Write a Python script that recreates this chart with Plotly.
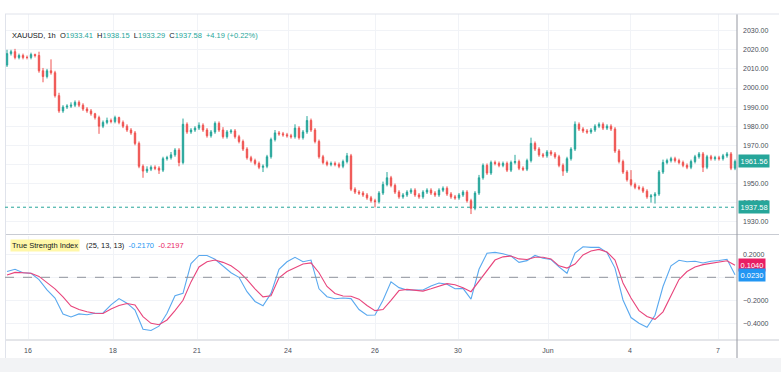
import plotly.graph_objects as go

# ---------------- data ----------------
closes = [
    2018, 2019, 2016, 2017, 2016, 2016, 2017.5, 2017, 2009, 2006,
    2009, 2008, 1996, 1988, 1990, 1990.5, 1991, 1992.5, 1991, 1989,
    1988, 1986.5, 1984.5, 1980, 1982, 1983, 1982.5, 1984.5, 1982, 1980,
    1978, 1976.5, 1971, 1959, 1956.5, 1957.5, 1958.5, 1958, 1957, 1963,
    1963.5, 1965, 1967.5, 1961, 1981, 1977, 1978, 1979, 1980.5, 1978,
    1975, 1977, 1981.5, 1978, 1974.5, 1977, 1977.5, 1974.5, 1972, 1968,
    1963.5, 1962, 1960.5, 1958.5, 1959, 1964, 1973, 1976.5, 1976, 1975.5,
    1975, 1974.5, 1979, 1974, 1977, 1983, 1978, 1972, 1964, 1961,
    1960, 1960.5, 1960, 1959, 1961.5, 1964.5, 1947, 1945.5, 1945, 1944,
    1942.5, 1941, 1940.5, 1945, 1949.5, 1953, 1949, 1945.5, 1943, 1944,
    1945.5, 1946.5, 1944, 1943, 1945.5, 1946.5, 1945, 1944, 1946.5, 1947.5,
    1944.5, 1943, 1942.5, 1944, 1945.5, 1941, 1937, 1945, 1953, 1959.5,
    1955.5, 1961, 1960.5, 1959.5, 1960.5, 1957, 1961, 1961.5, 1958, 1957.5,
    1962, 1971, 1968, 1965, 1964.5, 1966.5, 1965.5, 1964, 1959.5, 1956.5,
    1963, 1968, 1981, 1978.5, 1977.5, 1977, 1978, 1980, 1981, 1979,
    1980, 1978.5, 1967, 1961.5, 1956, 1952, 1949.5, 1948, 1947.5, 1946,
    1943, 1943.5, 1944.5, 1956, 1961, 1962, 1963, 1962, 1961, 1959.5,
    1958.5, 1961.5, 1964, 1965.5, 1958.5, 1964, 1963, 1963.5, 1963, 1964.5,
    1965.5, 1958, 1961.56,
]
first_open = 2012

up_wick = [
    2, 1, 1.5, 1, 1, 1, 1, 0.5, 2, 1.5, 1, 6, 1, 1.5, 1, 1, 1.5, 1, 1, 1,
    1, 1, 0.5, 1, 1, 1.5, 1, 1, 0.5, 1, 1, 1, 1, 1, 1, 1.5, 1, 1, 1, 1,
    1, 1.5, 1, 1, 3, 1, 1, 1, 1.5, 1, 1, 1, 1, 1, 1.5, 1, 1, 1, 1, 1,
    1, 1, 1, 1, 1, 1, 1, 1.5, 1, 1, 1, 1, 2, 1, 1, 2.3, 1, 1, 1, 1,
    1, 1, 1, 1, 1, 1.5, 1, 1, 1, 1, 1, 1, 1, 1, 1.5, 3, 1, 1, 1, 1,
    1, 1, 1, 1, 1, 1, 1, 1, 1, 1, 1, 1, 1, 1, 1, 1, 1, 1, 1.5, 1,
    1, 1, 1, 1, 1, 1, 1, 3.5, 1, 1, 1, 3, 1, 1, 1, 1, 1, 1, 1, 1,
    1, 1, 1.5, 1, 1, 1, 1, 1, 1, 1, 1, 1, 1, 1, 1, 1, 5, 1, 1, 1,
    1, 1, 1, 1, 1.5, 1, 1, 1, 1, 1, 1, 1, 1, 1, 1, 1, 1, 1, 1, 1,
    1, 1, 1,
]
dn_wick = [
    1, 1, 1, 1, 1, 1, 1, 1, 1, 3, 1, 1, 1, 1, 1, 1, 1, 1, 1, 1,
    1, 1, 1, 4, 1, 1, 1, 1, 1, 1, 1, 1, 1, 1, 3.5, 1, 1, 1, 2, 1,
    1, 1, 1, 2, 1, 1, 1, 1, 1, 1, 1, 1, 1, 1, 1, 1, 1, 1, 1, 1,
    1, 1, 1, 1, 2.5, 1, 1, 1, 1, 1, 1, 1, 1, 1, 1, 1, 1, 1, 1, 1,
    1, 1, 1, 1, 1, 1, 1, 1, 1, 1, 1, 1, 3, 1, 1, 1, 1, 1, 1, 1,
    1, 1, 1, 1, 1, 1, 1, 1, 1, 1, 1, 1, 1, 1, 1, 1, 3, 1, 1, 1,
    1, 1, 1, 1, 1, 1, 1, 1, 1, 1, 1, 1, 1, 1, 1, 1, 1, 1, 1, 2.5,
    1, 1, 1, 1, 1, 1, 1, 1, 1, 1, 1, 1, 1, 1, 1, 1, 1, 1, 1, 1,
    1, 3, 4, 1, 1, 1, 1, 1, 1, 1, 1, 1, 1, 1, 2.5, 1, 1, 1, 1, 1,
    1, 1, 1,
]

# TSI(25,13,13) and its signal, read every second bar
tsi = [
    0.05, 0.07, 0.04, 0.035, -0.02, -0.11, -0.18, -0.32, -0.345, -0.318,
    -0.325, -0.313, -0.31, -0.24, -0.185, -0.225, -0.284, -0.452, -0.462, -0.425,
    -0.313, -0.16, -0.139, 0.12, 0.19, 0.19, 0.157, 0.10, 0.04, 0.0,
    -0.125, -0.21, -0.247, -0.14, 0.07, 0.135, 0.174, 0.135, 0.15, -0.10,
    -0.169, -0.186, -0.18, -0.185, -0.28, -0.33, -0.328, -0.20, -0.04, -0.09,
    -0.11, -0.11, -0.11, -0.075, -0.05, -0.06, -0.10, -0.096, -0.19, 0.07,
    0.209, 0.217, 0.205, 0.185, 0.13, 0.145, 0.19, 0.165, 0.155, 0.09,
    0.035, 0.21, 0.266, 0.26, 0.26, 0.215, 0.08, -0.197, -0.35, -0.40,
    -0.435, -0.33, -0.08, 0.10, 0.148, 0.135, 0.14, 0.125, 0.14, 0.146,
    0.157, 0.023,
]
signal = [
    0.02, 0.043, 0.04, 0.035, 0.008, -0.047, -0.10, -0.17, -0.25, -0.28,
    -0.30, -0.312, -0.315, -0.275, -0.245, -0.228, -0.24, -0.342, -0.40, -0.412,
    -0.371, -0.29, -0.20, -0.04, 0.09, 0.135, 0.15, 0.13, 0.10, 0.05,
    -0.02, -0.10, -0.17, -0.16, -0.005, 0.05, 0.085, 0.116, 0.125, 0.04,
    -0.08, -0.14, -0.163, -0.165, -0.19, -0.245, -0.29, -0.28, -0.20, -0.115,
    -0.105, -0.11, -0.12, -0.10, -0.075, -0.055, -0.065, -0.09, -0.125, -0.03,
    0.063, 0.15, 0.178, 0.185, 0.16, 0.155, 0.174, 0.174, 0.16, 0.10,
    0.08, 0.115, 0.194, 0.228, 0.243, 0.22, 0.15, -0.05, -0.18, -0.29,
    -0.34, -0.365, -0.30, -0.16, -0.02, 0.05, 0.09, 0.11, 0.12, 0.13,
    0.144, 0.104,
]

date_labels = ["16", "18", "21", "24", "26", "30", "Jun", "4", "7"]
date_bars = [5.25, 26.5, 47.5, 70.25, 92, 112.75, 135.25, 155.75, 177.75]
price_ticks = [1930, 1940, 1950, 1960, 1970, 1980, 1990, 2000, 2010, 2020, 2030]
price_text = ["1930.00", "1940.00", "1950.00", "", "1970.00", "1980.00", "1990.00",
              "2000.00", "2010.00", "2020.00", "2030.00"]
tsi_ticks = [-0.4, -0.2, 0.0, 0.2]
tsi_text = ["\u22120.4000", "\u22120.2000", "", "0.2000"]
last_close = 1961.56
hover_close = 1937.58
tsi_last = 0.0230
signal_last = 0.1040

# ---------------- derived OHLC ----------------
bars = list(range(len(closes)))
opens = [first_open] + closes[:-1]
highs = [max(o, c) + u for o, c, u in zip(opens, closes, up_wick)]
lows = [min(o, c) - d for o, c, d in zip(opens, closes, dn_wick)]
tsi_x = bars[::2]

# ---------------- styling / layout ----------------
W, H = 781, 372
def px(x):
    return x / W
def py(y):
    return 1 - y / H

UP = "#26a69a"
DN = "#ef5350"
BLUE = "#5aa9ef"
PINK = "#e8457c"
GRID = "#f1f3f7"
AXC = "#c9ccd3"
TXT = "#4a4e58"
FONT = "Liberation Sans"

fig = go.Figure()
fig.add_trace(go.Candlestick(
    x=bars, open=opens, high=highs, low=lows, close=closes,
    increasing=dict(line=dict(color=UP, width=1), fillcolor=UP),
    decreasing=dict(line=dict(color=DN, width=1), fillcolor=DN),
    whiskerwidth=0, xaxis="x", yaxis="y", hoverinfo="skip",
))
fig.add_trace(go.Scatter(x=tsi_x, y=tsi, mode="lines",
                         line=dict(color=BLUE, width=1.1), xaxis="x2", yaxis="y2",
                         hoverinfo="skip"))
fig.add_trace(go.Scatter(x=tsi_x, y=signal, mode="lines",
                         line=dict(color=PINK, width=1.1), xaxis="x2", yaxis="y2",
                         hoverinfo="skip"))

xdom = [px(5), px(737)]
xr = [-0.5, len(closes) - 0.5]
main_lo = 2030 - (233 - 30.7) / 1.91
main_hi = 2030 + (30.7 - 14) / 1.91
tsi_lo = (277.3 - 339) / 115
tsi_hi = (277.3 - 236) / 115

fig.update_layout(
    width=W, height=H, margin=dict(l=0, r=0, t=0, b=0),
    paper_bgcolor="white", plot_bgcolor="white",
    showlegend=False, hovermode=False, boxgap=0.5,
    font=dict(family=FONT, size=7, color=TXT),
    xaxis=dict(domain=xdom, range=xr, anchor="y", showticklabels=False,
               tickvals=date_bars, showgrid=True, gridcolor=GRID, gridwidth=1,
               zeroline=False, rangeslider=dict(visible=False), fixedrange=True),
    yaxis=dict(domain=[py(233), py(14)], range=[main_lo, main_hi], side="right",
               anchor="x", tickvals=price_ticks, ticktext=price_text,
               showgrid=True, gridcolor=GRID, zeroline=False, ticks="",
               ticklabelstandoff=5, tickfont=dict(size=7, color=TXT), automargin=False),
    xaxis2=dict(domain=xdom, range=xr, anchor="y2", tickvals=date_bars,
                ticktext=date_labels, showgrid=True, gridcolor=GRID, zeroline=False,
                ticks="", ticklabelstandoff=6, tickfont=dict(size=7, color=TXT),
                automargin=False),
    yaxis2=dict(domain=[py(339), py(236)], range=[tsi_lo, tsi_hi], side="right",
                anchor="x2", tickvals=tsi_ticks, ticktext=tsi_text,
                showgrid=True, gridcolor=GRID, zeroline=False, ticks="",
                ticklabelstandoff=5, tickfont=dict(size=7, color=TXT), automargin=False),
)

shapes = [
    dict(type="rect", xref="paper", yref="paper", x0=0, x1=1, y0=0, y1=py(358),
         fillcolor="#f2f3f5", line=dict(width=0), layer="below"),
    dict(type="line", xref="paper", yref="paper", x0=px(5), x1=px(779), y0=py(234.5), y1=py(234.5),
         line=dict(color=AXC, width=1)),
    dict(type="line", xref="paper", yref="paper", x0=px(5), x1=px(779), y0=py(340), y1=py(340),
         line=dict(color=AXC, width=1)),
    dict(type="line", xref="paper", yref="paper", x0=px(737), x1=px(737), y0=py(358), y1=py(14),
         line=dict(color="#9598a1", width=1)),
    dict(type="line", xref="paper", yref="paper", x0=px(5.5), x1=px(5.5), y0=py(358), y1=py(14),
         line=dict(color="#e0e3eb", width=1)),
    dict(type="line", xref="paper", yref="paper", x0=px(5), x1=px(779), y0=py(14), y1=py(14),
         line=dict(color="#e0e3eb", width=1)),
    dict(type="line", xref="paper", yref="y", x0=xdom[0], x1=xdom[1], y0=hover_close, y1=hover_close,
         line=dict(color=UP, width=1, dash="dot")),
    dict(type="line", xref="paper", yref="y2", x0=xdom[0], x1=xdom[1], y0=0, y1=0,
         line=dict(color="#8f939c", width=1, dash="dash")),
]
fig.update_layout(shapes=shapes)

def tag(text, y, yref, bg):
    return dict(xref="paper", yref=yref, x=px(738), y=y, xanchor="left", yanchor="middle",
                text=text, showarrow=False, bgcolor=bg, borderpad=1.5,
                font=dict(family=FONT, size=7.5, color="white"))

ann = [
    tag(f"{last_close:.2f}", last_close, "y", UP),
    tag(f"{hover_close:.2f}", hover_close, "y", UP),
    tag(f"{signal_last:.4f}", signal_last, "y2", "#e91e63"),
    tag(f"{tsi_last:.4f}", tsi_last, "y2", "#2196f3"),
    dict(xref="paper", yref="paper", x=px(10), y=py(35), xanchor="left", yanchor="middle",
         showarrow=False, font=dict(family=FONT, size=7.5, color="#131722"),
         text=("XAUUSD, 1h  O<span style='color:%s'>1933.41</span>  H<span style='color:%s'>1938.15</span>"
               "  L<span style='color:%s'>1933.29</span>  C<span style='color:%s'>1937.58</span>"
               "  <span style='color:%s'>+4.19 (+0.22%%)</span>") % (UP, UP, UP, UP, UP)),
    dict(xref="paper", yref="paper", x=px(10), y=py(245), xanchor="left", yanchor="middle",
         showarrow=False, bgcolor="#fff7a8", borderpad=1,
         font=dict(family=FONT, size=7.5, color="#131722"), text="True Strength Index"),
    dict(xref="paper", yref="paper", x=px(84), y=py(245), xanchor="left", yanchor="middle",
         showarrow=False, font=dict(family=FONT, size=7.5, color="#131722"),
         text=("(25, 13, 13)  <span style='color:#2196f3'>-0.2170</span>"
               "  <span style='color:#e91e63'>-0.2197</span>")),
]
fig.update_layout(annotations=ann)

fig.write_html("out.html", config={"displayModeBar": False},
               post_script="document.body.style.margin='0px';document.body.style.overflow='hidden';")
